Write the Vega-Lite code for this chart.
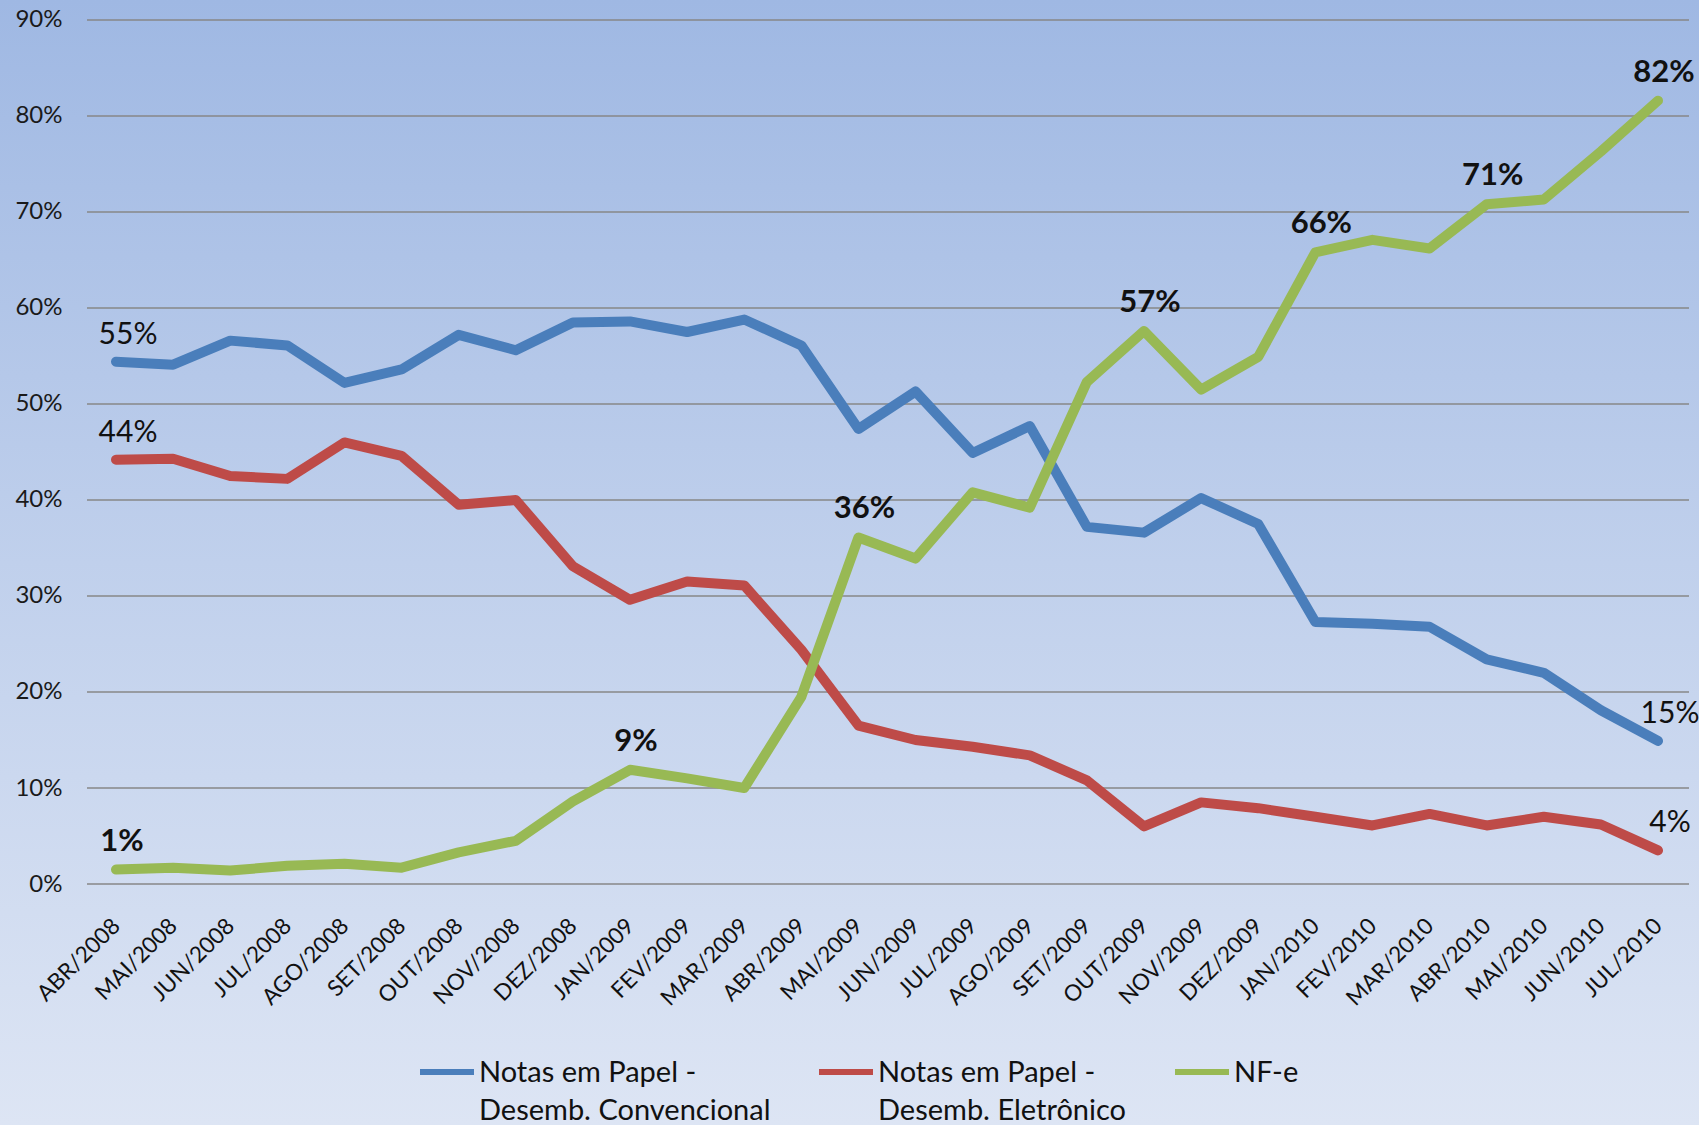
{
  "$schema": "https://vega.github.io/schema/vega-lite/v6.json",
  "width": 1699,
  "height": 1125,
  "autosize": "none",
  "padding": 0,
  "background": "#dce4f3",
  "view": {
    "stroke": null,
    "fill": {
      "gradient": "linear",
      "x1": 0, "y1": 0, "x2": 0, "y2": 1,
      "stops": [
        {"offset": 0, "color": "#9fb8e3"},
        {"offset": 0.5, "color": "#c0d0ec"},
        {"offset": 1, "color": "#dde5f4"}
      ]
    }
  },
  "config": {
    "font": "Lato",
    "view": {"stroke": null},
    "style": {"guide-label": {"lineHeight": 38}}
  },
  "datasets": {
    "grade": [
      {"v": 0}, {"v": 10}, {"v": 20}, {"v": 30}, {"v": 40},
      {"v": 50}, {"v": 60}, {"v": 70}, {"v": 80}, {"v": 90}
    ],
    "series": [
      {"i": 0, "mes": "ABR/2008", "serie": "Notas em Papel - Desemb. Convencional", "valor": 54.4, "rotulo": "55%"},
      {"i": 1, "mes": "MAI/2008", "serie": "Notas em Papel - Desemb. Convencional", "valor": 54.1},
      {"i": 2, "mes": "JUN/2008", "serie": "Notas em Papel - Desemb. Convencional", "valor": 56.6},
      {"i": 3, "mes": "JUL/2008", "serie": "Notas em Papel - Desemb. Convencional", "valor": 56.1},
      {"i": 4, "mes": "AGO/2008", "serie": "Notas em Papel - Desemb. Convencional", "valor": 52.2},
      {"i": 5, "mes": "SET/2008", "serie": "Notas em Papel - Desemb. Convencional", "valor": 53.6},
      {"i": 6, "mes": "OUT/2008", "serie": "Notas em Papel - Desemb. Convencional", "valor": 57.2},
      {"i": 7, "mes": "NOV/2008", "serie": "Notas em Papel - Desemb. Convencional", "valor": 55.6},
      {"i": 8, "mes": "DEZ/2008", "serie": "Notas em Papel - Desemb. Convencional", "valor": 58.5},
      {"i": 9, "mes": "JAN/2009", "serie": "Notas em Papel - Desemb. Convencional", "valor": 58.6},
      {"i": 10, "mes": "FEV/2009", "serie": "Notas em Papel - Desemb. Convencional", "valor": 57.5},
      {"i": 11, "mes": "MAR/2009", "serie": "Notas em Papel - Desemb. Convencional", "valor": 58.8},
      {"i": 12, "mes": "ABR/2009", "serie": "Notas em Papel - Desemb. Convencional", "valor": 56.1},
      {"i": 13, "mes": "MAI/2009", "serie": "Notas em Papel - Desemb. Convencional", "valor": 47.4},
      {"i": 14, "mes": "JUN/2009", "serie": "Notas em Papel - Desemb. Convencional", "valor": 51.3},
      {"i": 15, "mes": "JUL/2009", "serie": "Notas em Papel - Desemb. Convencional", "valor": 44.9},
      {"i": 16, "mes": "AGO/2009", "serie": "Notas em Papel - Desemb. Convencional", "valor": 47.7},
      {"i": 17, "mes": "SET/2009", "serie": "Notas em Papel - Desemb. Convencional", "valor": 37.2},
      {"i": 18, "mes": "OUT/2009", "serie": "Notas em Papel - Desemb. Convencional", "valor": 36.6},
      {"i": 19, "mes": "NOV/2009", "serie": "Notas em Papel - Desemb. Convencional", "valor": 40.2},
      {"i": 20, "mes": "DEZ/2009", "serie": "Notas em Papel - Desemb. Convencional", "valor": 37.5},
      {"i": 21, "mes": "JAN/2010", "serie": "Notas em Papel - Desemb. Convencional", "valor": 27.3},
      {"i": 22, "mes": "FEV/2010", "serie": "Notas em Papel - Desemb. Convencional", "valor": 27.1},
      {"i": 23, "mes": "MAR/2010", "serie": "Notas em Papel - Desemb. Convencional", "valor": 26.8},
      {"i": 24, "mes": "ABR/2010", "serie": "Notas em Papel - Desemb. Convencional", "valor": 23.4},
      {"i": 25, "mes": "MAI/2010", "serie": "Notas em Papel - Desemb. Convencional", "valor": 22.0},
      {"i": 26, "mes": "JUN/2010", "serie": "Notas em Papel - Desemb. Convencional", "valor": 18.1},
      {"i": 27, "mes": "JUL/2010", "serie": "Notas em Papel - Desemb. Convencional", "valor": 14.9, "rotulo": "15%"},
      {"i": 0, "mes": "ABR/2008", "serie": "Notas em Papel - Desemb. Eletrônico", "valor": 44.2, "rotulo": "44%"},
      {"i": 1, "mes": "MAI/2008", "serie": "Notas em Papel - Desemb. Eletrônico", "valor": 44.3},
      {"i": 2, "mes": "JUN/2008", "serie": "Notas em Papel - Desemb. Eletrônico", "valor": 42.5},
      {"i": 3, "mes": "JUL/2008", "serie": "Notas em Papel - Desemb. Eletrônico", "valor": 42.2},
      {"i": 4, "mes": "AGO/2008", "serie": "Notas em Papel - Desemb. Eletrônico", "valor": 46.0},
      {"i": 5, "mes": "SET/2008", "serie": "Notas em Papel - Desemb. Eletrônico", "valor": 44.6},
      {"i": 6, "mes": "OUT/2008", "serie": "Notas em Papel - Desemb. Eletrônico", "valor": 39.5},
      {"i": 7, "mes": "NOV/2008", "serie": "Notas em Papel - Desemb. Eletrônico", "valor": 40.0},
      {"i": 8, "mes": "DEZ/2008", "serie": "Notas em Papel - Desemb. Eletrônico", "valor": 33.1},
      {"i": 9, "mes": "JAN/2009", "serie": "Notas em Papel - Desemb. Eletrônico", "valor": 29.6},
      {"i": 10, "mes": "FEV/2009", "serie": "Notas em Papel - Desemb. Eletrônico", "valor": 31.5},
      {"i": 11, "mes": "MAR/2009", "serie": "Notas em Papel - Desemb. Eletrônico", "valor": 31.1},
      {"i": 12, "mes": "ABR/2009", "serie": "Notas em Papel - Desemb. Eletrônico", "valor": 24.4},
      {"i": 13, "mes": "MAI/2009", "serie": "Notas em Papel - Desemb. Eletrônico", "valor": 16.5},
      {"i": 14, "mes": "JUN/2009", "serie": "Notas em Papel - Desemb. Eletrônico", "valor": 15.0},
      {"i": 15, "mes": "JUL/2009", "serie": "Notas em Papel - Desemb. Eletrônico", "valor": 14.3},
      {"i": 16, "mes": "AGO/2009", "serie": "Notas em Papel - Desemb. Eletrônico", "valor": 13.4},
      {"i": 17, "mes": "SET/2009", "serie": "Notas em Papel - Desemb. Eletrônico", "valor": 10.8},
      {"i": 18, "mes": "OUT/2009", "serie": "Notas em Papel - Desemb. Eletrônico", "valor": 6.0},
      {"i": 19, "mes": "NOV/2009", "serie": "Notas em Papel - Desemb. Eletrônico", "valor": 8.5},
      {"i": 20, "mes": "DEZ/2009", "serie": "Notas em Papel - Desemb. Eletrônico", "valor": 7.9},
      {"i": 21, "mes": "JAN/2010", "serie": "Notas em Papel - Desemb. Eletrônico", "valor": 7.0},
      {"i": 22, "mes": "FEV/2010", "serie": "Notas em Papel - Desemb. Eletrônico", "valor": 6.1},
      {"i": 23, "mes": "MAR/2010", "serie": "Notas em Papel - Desemb. Eletrônico", "valor": 7.3},
      {"i": 24, "mes": "ABR/2010", "serie": "Notas em Papel - Desemb. Eletrônico", "valor": 6.1},
      {"i": 25, "mes": "MAI/2010", "serie": "Notas em Papel - Desemb. Eletrônico", "valor": 7.0},
      {"i": 26, "mes": "JUN/2010", "serie": "Notas em Papel - Desemb. Eletrônico", "valor": 6.2},
      {"i": 27, "mes": "JUL/2010", "serie": "Notas em Papel - Desemb. Eletrônico", "valor": 3.5, "rotulo": "4%"},
      {"i": 0, "mes": "ABR/2008", "serie": "NF-e", "valor": 1.5, "rotulo": "1%"},
      {"i": 1, "mes": "MAI/2008", "serie": "NF-e", "valor": 1.7},
      {"i": 2, "mes": "JUN/2008", "serie": "NF-e", "valor": 1.4},
      {"i": 3, "mes": "JUL/2008", "serie": "NF-e", "valor": 1.9},
      {"i": 4, "mes": "AGO/2008", "serie": "NF-e", "valor": 2.1},
      {"i": 5, "mes": "SET/2008", "serie": "NF-e", "valor": 1.7},
      {"i": 6, "mes": "OUT/2008", "serie": "NF-e", "valor": 3.3},
      {"i": 7, "mes": "NOV/2008", "serie": "NF-e", "valor": 4.5},
      {"i": 8, "mes": "DEZ/2008", "serie": "NF-e", "valor": 8.6},
      {"i": 9, "mes": "JAN/2009", "serie": "NF-e", "valor": 11.9, "rotulo": "9%"},
      {"i": 10, "mes": "FEV/2009", "serie": "NF-e", "valor": 11.0},
      {"i": 11, "mes": "MAR/2009", "serie": "NF-e", "valor": 10.0},
      {"i": 12, "mes": "ABR/2009", "serie": "NF-e", "valor": 19.5},
      {"i": 13, "mes": "MAI/2009", "serie": "NF-e", "valor": 36.1, "rotulo": "36%"},
      {"i": 14, "mes": "JUN/2009", "serie": "NF-e", "valor": 33.9},
      {"i": 15, "mes": "JUL/2009", "serie": "NF-e", "valor": 40.8},
      {"i": 16, "mes": "AGO/2009", "serie": "NF-e", "valor": 39.2},
      {"i": 17, "mes": "SET/2009", "serie": "NF-e", "valor": 52.3},
      {"i": 18, "mes": "OUT/2009", "serie": "NF-e", "valor": 57.6, "rotulo": "57%"},
      {"i": 19, "mes": "NOV/2009", "serie": "NF-e", "valor": 51.5},
      {"i": 20, "mes": "DEZ/2009", "serie": "NF-e", "valor": 54.9},
      {"i": 21, "mes": "JAN/2010", "serie": "NF-e", "valor": 65.8, "rotulo": "66%"},
      {"i": 22, "mes": "FEV/2010", "serie": "NF-e", "valor": 67.1},
      {"i": 23, "mes": "MAR/2010", "serie": "NF-e", "valor": 66.2},
      {"i": 24, "mes": "ABR/2010", "serie": "NF-e", "valor": 70.8, "rotulo": "71%"},
      {"i": 25, "mes": "MAI/2010", "serie": "NF-e", "valor": 71.3},
      {"i": 26, "mes": "JUN/2010", "serie": "NF-e", "valor": 76.3},
      {"i": 27, "mes": "JUL/2010", "serie": "NF-e", "valor": 81.6, "rotulo": "82%"}
    ]
  },
  "layer": [
    {
      "data": {"name": "grade"},
      "mark": {"type": "rule", "color": "#878787", "strokeWidth": 1.3},
      "encoding": {
        "y": {
          "field": "v", "type": "quantitative",
          "scale": {"domain": [-25.104, 92.083], "nice": false, "zero": false},
          "axis": {
            "title": null, "orient": "left", "offset": -87,
            "values": [0,10,20,30,40,50,60,70,80,90],
            "labelExpr": "datum.value + '%'",
            "grid": false, "domain": false, "ticks": false, "tickSize": 0,
            "labelPadding": 25, "labelFont": "Lato", "labelFontSize": 24,
            "labelColor": "#1a1a1a", "labelOverlap": false, "labelFlush": false, "labelBound": false
          }
        },
        "x": {
          "datum": -0.508, "type": "quantitative",
          "scale": {"domain": [-2.0311, 27.7179], "nice": false, "zero": false},
          "axis": {
            "title": null, "orient": "bottom", "offset": -241,
            "values": [0,1,2,3,4,5,6,7,8,9,10,11,12,13,14,15,16,17,18,19,20,21,22,23,24,25,26,27],
            "labelExpr": "['ABR/2008','MAI/2008','JUN/2008','JUL/2008','AGO/2008','SET/2008','OUT/2008','NOV/2008','DEZ/2008','JAN/2009','FEV/2009','MAR/2009','ABR/2009','MAI/2009','JUN/2009','JUL/2009','AGO/2009','SET/2009','OUT/2009','NOV/2009','DEZ/2009','JAN/2010','FEV/2010','MAR/2010','ABR/2010','MAI/2010','JUN/2010','JUL/2010'][datum.value]",
            "grid": false, "domain": false, "ticks": false, "tickSize": 0,
            "labelAngle": -45, "labelAlign": "right", "labelBaseline": "middle",
            "labelPadding": 38, "labelFont": "Lato", "labelFontSize": 22.5,
            "labelColor": "#111111", "labelOverlap": false, "labelFlush": false, "labelBound": false
          }
        },
        "x2": {"datum": 27.543}
      }
    },
    {
      "data": {"name": "series"},
      "mark": {"type": "line", "strokeWidth": 10, "strokeCap": "round", "strokeJoin": "round"},
      "encoding": {
        "x": {"field": "i", "type": "quantitative", "title": null},
        "y": {"field": "valor", "type": "quantitative", "title": null},
        "color": {
          "field": "serie", "type": "nominal",
          "scale": {
            "domain": ["Notas em Papel - Desemb. Convencional", "Notas em Papel - Desemb. Eletrônico", "NF-e"],
            "range": ["#4a7ebb", "#be4b48", "#98b954"]
          },
          "legend": {
            "title": null, "orient": "none", "direction": "horizontal",
            "legendX": 417, "legendY": 1029, "columns": 3, "columnPadding": 36,
            "symbolType": "M-1,0.48L1,0.48", "symbolSize": 2916, "symbolStrokeWidth": 6,
            "labelExpr": "indexof(datum.label, ' - ') > 0 ? [slice(datum.label, 0, indexof(datum.label, ' - ') + 2), slice(datum.label, indexof(datum.label, ' - ') + 3)] : [datum.label, ' ']",
            "labelFont": "Lato", "labelFontSize": 29, "labelColor": "#111111",
            "labelBaseline": "top", "labelOffset": 2, "labelLimit": 0
          }
        },
        "order": {"field": "i", "type": "quantitative"}
      }
    },
    {
      "data": {"name": "series"},
      "transform": [{"filter": "datum.rotulo != null && datum.serie != 'NF-e'"}],
      "mark": {"type": "text", "font": "Lato", "fontSize": 30, "color": "#111111", "dx": 12, "dy": -27, "baseline": "middle", "align": "center"},
      "encoding": {
        "x": {"field": "i", "type": "quantitative"},
        "y": {"field": "valor", "type": "quantitative"},
        "text": {"field": "rotulo"}
      }
    },
    {
      "data": {"name": "series"},
      "transform": [{"filter": "datum.rotulo != null && datum.serie == 'NF-e'"}],
      "mark": {"type": "text", "font": "Lato", "fontSize": 31, "fontWeight": "bold", "color": "#111111", "dx": 6, "dy": -28, "baseline": "middle", "align": "center"},
      "encoding": {
        "x": {"field": "i", "type": "quantitative"},
        "y": {"field": "valor", "type": "quantitative"},
        "text": {"field": "rotulo"}
      }
    }
  ]
}
